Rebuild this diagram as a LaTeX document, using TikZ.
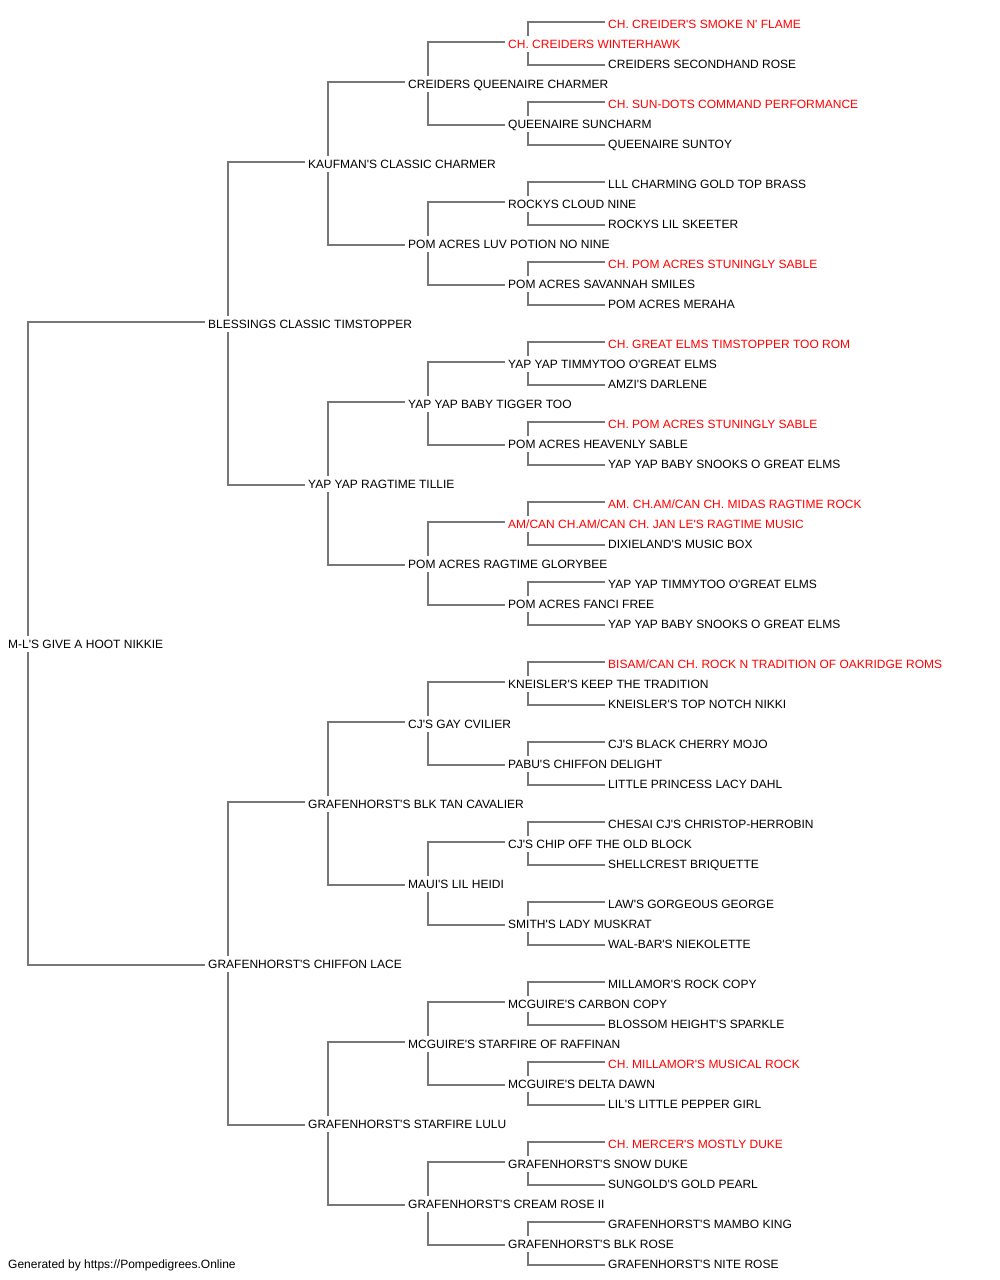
\documentclass[tikz,border=0pt]{standalone}
\usepackage{fontspec}
\newfontfamily\lsans{Liberation Sans}
\definecolor{chred}{HTML}{FF0000}
\definecolor{linegray}{HTML}{777777}
\begin{document}
\begin{tikzpicture}[x=1pt,y=-1pt,
  dog/.style={anchor=west,inner xsep=3pt,inner ysep=0pt,text height=12pt,text depth=4pt,
    font=\lsans\fontsize{12}{14}\selectfont,text=black},
  champ/.style={dog,text=chred},
  link/.style={draw=linegray,line width=1.3pt}]
\useasboundingbox (0,0) rectangle (1000,1280);
% level 1
\node[dog] (r) at (5,644) {M-L'S GIVE A HOOT NIKKIE};
% level 2
\node[dog] (r0) at (205,324) {BLESSINGS CLASSIC TIMSTOPPER};
\node[dog] (r1) at (205,964) {GRAFENHORST'S CHIFFON LACE};
% level 3
\node[dog] (r00) at (305,164) {KAUFMAN'S CLASSIC CHARMER};
\node[dog] (r01) at (305,484) {YAP YAP RAGTIME TILLIE};
\node[dog] (r10) at (305,804) {GRAFENHORST'S BLK TAN CAVALIER};
\node[dog] (r11) at (305,1124) {GRAFENHORST'S STARFIRE LULU};
% level 4
\node[dog] (r000) at (405,84) {CREIDERS QUEENAIRE CHARMER};
\node[dog] (r001) at (405,244) {POM ACRES LUV POTION NO NINE};
\node[dog] (r010) at (405,404) {YAP YAP BABY TIGGER TOO};
\node[dog] (r011) at (405,564) {POM ACRES RAGTIME GLORYBEE};
\node[dog] (r100) at (405,724) {CJ'S GAY CVILIER};
\node[dog] (r101) at (405,884) {MAUI'S LIL HEIDI};
\node[dog] (r110) at (405,1044) {MCGUIRE'S STARFIRE OF RAFFINAN};
\node[dog] (r111) at (405,1204) {GRAFENHORST'S CREAM ROSE II};
% level 5
\node[champ] (r0000) at (505,44) {CH. CREIDERS WINTERHAWK};
\node[dog] (r0001) at (505,124) {QUEENAIRE SUNCHARM};
\node[dog] (r0010) at (505,204) {ROCKYS CLOUD NINE};
\node[dog] (r0011) at (505,284) {POM ACRES SAVANNAH SMILES};
\node[dog] (r0100) at (505,364) {YAP YAP TIMMYTOO O'GREAT ELMS};
\node[dog] (r0101) at (505,444) {POM ACRES HEAVENLY SABLE};
\node[champ] (r0110) at (505,524) {AM/CAN CH.AM/CAN CH. JAN LE'S RAGTIME MUSIC};
\node[dog] (r0111) at (505,604) {POM ACRES FANCI FREE};
\node[dog] (r1000) at (505,684) {KNEISLER'S KEEP THE TRADITION};
\node[dog] (r1001) at (505,764) {PABU'S CHIFFON DELIGHT};
\node[dog] (r1010) at (505,844) {CJ'S CHIP OFF THE OLD BLOCK};
\node[dog] (r1011) at (505,924) {SMITH'S LADY MUSKRAT};
\node[dog] (r1100) at (505,1004) {MCGUIRE'S CARBON COPY};
\node[dog] (r1101) at (505,1084) {MCGUIRE'S DELTA DAWN};
\node[dog] (r1110) at (505,1164) {GRAFENHORST'S SNOW DUKE};
\node[dog] (r1111) at (505,1244) {GRAFENHORST'S BLK ROSE};
% level 6
\node[champ] (r00000) at (605,24) {CH. CREIDER'S SMOKE N' FLAME};
\node[dog] (r00001) at (605,64) {CREIDERS SECONDHAND ROSE};
\node[champ] (r00010) at (605,104) {CH. SUN-DOTS COMMAND PERFORMANCE};
\node[dog] (r00011) at (605,144) {QUEENAIRE SUNTOY};
\node[dog] (r00100) at (605,184) {LLL CHARMING GOLD TOP BRASS};
\node[dog] (r00101) at (605,224) {ROCKYS LIL SKEETER};
\node[champ] (r00110) at (605,264) {CH. POM ACRES STUNINGLY SABLE};
\node[dog] (r00111) at (605,304) {POM ACRES MERAHA};
\node[champ] (r01000) at (605,344) {CH. GREAT ELMS TIMSTOPPER TOO ROM};
\node[dog] (r01001) at (605,384) {AMZI'S DARLENE};
\node[champ] (r01010) at (605,424) {CH. POM ACRES STUNINGLY SABLE};
\node[dog] (r01011) at (605,464) {YAP YAP BABY SNOOKS O GREAT ELMS};
\node[champ] (r01100) at (605,504) {AM. CH.AM/CAN CH. MIDAS RAGTIME ROCK};
\node[dog] (r01101) at (605,544) {DIXIELAND'S MUSIC BOX};
\node[dog] (r01110) at (605,584) {YAP YAP TIMMYTOO O'GREAT ELMS};
\node[dog] (r01111) at (605,624) {YAP YAP BABY SNOOKS O GREAT ELMS};
\node[champ] (r10000) at (605,664) {BISAM/CAN CH. ROCK N TRADITION OF OAKRIDGE ROMS};
\node[dog] (r10001) at (605,704) {KNEISLER'S TOP NOTCH NIKKI};
\node[dog] (r10010) at (605,744) {CJ'S BLACK CHERRY MOJO};
\node[dog] (r10011) at (605,784) {LITTLE PRINCESS LACY DAHL};
\node[dog] (r10100) at (605,824) {CHESAI CJ'S CHRISTOP-HERROBIN};
\node[dog] (r10101) at (605,864) {SHELLCREST BRIQUETTE};
\node[dog] (r10110) at (605,904) {LAW'S GORGEOUS GEORGE};
\node[dog] (r10111) at (605,944) {WAL-BAR'S NIEKOLETTE};
\node[dog] (r11000) at (605,984) {MILLAMOR'S ROCK COPY};
\node[dog] (r11001) at (605,1024) {BLOSSOM HEIGHT'S SPARKLE};
\node[champ] (r11010) at (605,1064) {CH. MILLAMOR'S MUSICAL ROCK};
\node[dog] (r11011) at (605,1104) {LIL'S LITTLE PEPPER GIRL};
\node[champ] (r11100) at (605,1144) {CH. MERCER'S MOSTLY DUKE};
\node[dog] (r11101) at (605,1184) {SUNGOLD'S GOLD PEARL};
\node[dog] (r11110) at (605,1224) {GRAFENHORST'S MAMBO KING};
\node[dog] (r11111) at (605,1264) {GRAFENHORST'S NITE ROSE};
% footer
\node[dog] (credit) at (5,1264) {Generated by https://Pompedigrees.Online};
% connectors
\foreach \p in {r,r0,r1,r00,r01,r10,r11,r000,r001,r010,r011,r100,r101,r110,r111,
  r0000,r0001,r0010,r0011,r0100,r0101,r0110,r0111,r1000,r1001,r1010,r1011,r1100,r1101,r1110,r1111}{
  \draw[link] ([xshift=23pt]\p.north west) |- ([yshift=2pt]\p0.west);
  \draw[link] ([xshift=23pt]\p.south west) |- ([yshift=-1pt]\p1.west);
}
\end{tikzpicture}
\end{document}
